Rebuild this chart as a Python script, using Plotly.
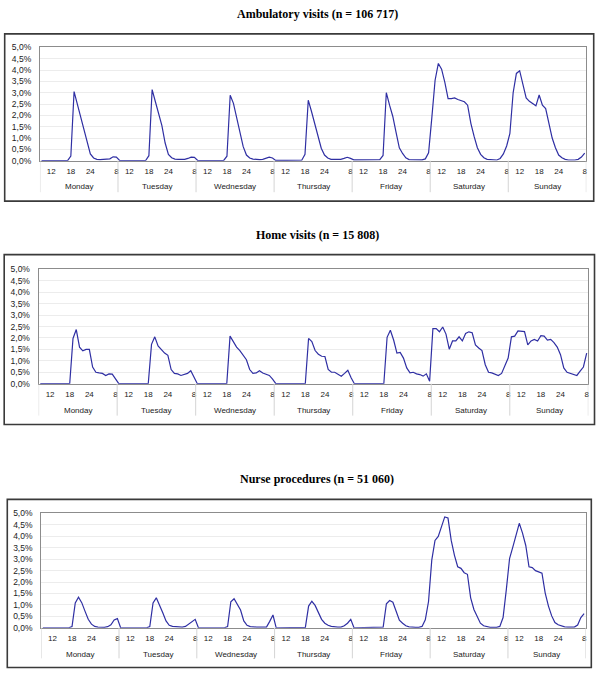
import plotly.graph_objects as go

# ---------------- data (percent of visits per hour, 8:00 Monday -> 8:00 next Monday) -------------
days = ["Monday", "Tuesday", "Wednesday", "Thursday", "Friday", "Saturday", "Sunday"]
hour_labels = [str(h) for h in list(range(9, 25)) + list(range(1, 9))]   # 24 hourly categories per day
shown_hours = ["12", "18", "24", "8"]

ambulatory = (
    [0, 0, 0, 0, 0, 0, 0, 0, 0, 0.2, 3.05, 2.5, 1.95, 1.35, 0.78, 0.3, 0.12, 0.06, 0.05, 0.05, 0.05, 0.08, 0.17, 0.16]
    + [0.01, 0, 0, 0, 0, 0, 0, 0, 0.01, 0.22, 3.14, 2.6, 2.1, 1.55, 0.78, 0.28, 0.13, 0.07, 0.06, 0.06, 0.06, 0.1, 0.16, 0.15]
    + [0.01, 0, 0, 0, 0, 0, 0, 0, 0.01, 0.2, 2.89, 2.53, 1.9, 1.25, 0.62, 0.25, 0.12, 0.07, 0.05, 0.05, 0.06, 0.1, 0.16, 0.12]
    + [0.01, 0.01, 0.01, 0.01, 0.01, 0.01, 0.01, 0.01, 0.02, 0.28, 2.67, 2.17, 1.66, 1.08, 0.55, 0.25, 0.12, 0.06, 0.05, 0.05, 0.06, 0.1, 0.15, 0.1]
    + [0.04, 0.04, 0.04, 0.03, 0.03, 0.03, 0.03, 0.04, 0.05, 0.23, 3.0, 2.45, 1.95, 1.25, 0.57, 0.32, 0.13, 0.05, 0.04, 0.04, 0.04, 0.04, 0.08, 0.35]
    + [1.9, 3.55, 4.29, 4.04, 3.46, 2.74, 2.74, 2.77, 2.7, 2.65, 2.6, 2.45, 1.65, 1.07, 0.57, 0.28, 0.13, 0.06, 0.04, 0.03, 0.03, 0.1, 0.3, 0.65]
    + [1.2, 3.0, 3.85, 3.97, 3.32, 2.77, 2.62, 2.52, 2.42, 2.9, 2.45, 2.3, 1.58, 1.0, 0.57, 0.25, 0.13, 0.06, 0.03, 0.02, 0.03, 0.06, 0.16, 0.33]
)

home = (
    [0, 0, 0, 0, 0, 0, 0, 0, 0, 0, 1.98, 2.37, 1.6, 1.44, 1.5, 1.5, 0.73, 0.5, 0.47, 0.45, 0.36, 0.43, 0.42, 0.19]
    + [0, 0, 0, 0, 0, 0, 0, 0, 0, 0, 1.72, 2.05, 1.65, 1.48, 1.34, 1.24, 0.62, 0.45, 0.43, 0.36, 0.39, 0.45, 0.57, 0.26]
    + [0, 0, 0, 0, 0, 0, 0, 0, 0, 0, 2.08, 1.84, 1.6, 1.45, 1.27, 1.05, 0.62, 0.45, 0.47, 0.57, 0.47, 0.4, 0.36, 0.2]
    + [0, 0, 0, 0, 0, 0, 0, 0, 0, 0, 1.98, 1.84, 1.45, 1.29, 1.2, 1.19, 0.62, 0.5, 0.5, 0.4, 0.33, 0.45, 0.59, 0.26]
    + [0, 0, 0, 0, 0, 0, 0, 0, 0, 0, 2.03, 2.34, 1.91, 1.34, 1.37, 1.12, 0.69, 0.47, 0.5, 0.43, 0.4, 0.33, 0.43, 0.11]
    + [2.41, 2.41, 2.27, 2.48, 2.17, 1.51, 1.87, 1.87, 2.05, 1.87, 2.2, 2.27, 2.23, 1.7, 1.56, 1.45, 0.83, 0.5, 0.47, 0.4, 0.36, 0.45, 0.76, 1.12]
    + [2.05, 2.08, 2.31, 2.3, 2.28, 1.7, 1.87, 1.94, 1.87, 2.1, 2.08, 1.91, 1.94, 1.8, 1.6, 1.27, 0.69, 0.5, 0.45, 0.43, 0.36, 0.55, 0.73, 1.34]
)

nurse = (
    [0, 0, 0, 0, 0, 0, 0, 0, 0, 0.05, 1.09, 1.34, 1.1, 0.73, 0.37, 0.16, 0.06, 0.03, 0.02, 0.02, 0.05, 0.13, 0.34, 0.4]
    + [0, 0, 0, 0, 0, 0, 0, 0, 0, 0.05, 1.09, 1.31, 1.02, 0.66, 0.3, 0.11, 0.06, 0.04, 0.04, 0.03, 0.06, 0.16, 0.3, 0.37]
    + [0, 0, 0, 0, 0, 0, 0, 0, 0, 0.05, 1.14, 1.27, 1.02, 0.78, 0.3, 0.11, 0.05, 0.03, 0.03, 0.03, 0.03, 0.03, 0.28, 0.56]
    + [0, 0, 0, 0, 0, 0, 0, 0, 0, 0.02, 0.95, 1.16, 0.98, 0.66, 0.37, 0.2, 0.11, 0.06, 0.03, 0.03, 0.03, 0.09, 0.2, 0.37]
    + [0, 0, 0, 0, 0, 0, 0, 0, 0, 0.03, 1.05, 1.19, 1.12, 0.69, 0.33, 0.2, 0.09, 0.04, 0.02, 0.02, 0.02, 0.06, 0.35, 1.15]
    + [2.96, 3.82, 4.0, 4.43, 4.85, 4.8, 3.82, 3.17, 2.67, 2.6, 2.41, 2.34, 1.31, 0.8, 0.49, 0.2, 0.09, 0.04, 0.02, 0.02, 0.02, 0.06, 0.45, 1.67]
    + [3.03, 3.53, 4.1, 4.57, 4.14, 3.6, 2.67, 2.63, 2.5, 2.44, 2.39, 1.52, 0.95, 0.52, 0.23, 0.13, 0.07, 0.04, 0.03, 0.02, 0.03, 0.12, 0.45, 0.62]
)

titles = ["Ambulatory visits (n = 106 717)", "Home visits (n = 15 808)", "Nurse procedures (n = 51 060)"]
series = [ambulatory, home, nurse]

y_tickvals = [0, 0.5, 1, 1.5, 2, 2.5, 3, 3.5, 4, 4.5, 5]
y_ticktext = ["0,0%", "0,5%", "1,0%", "1,5%", "2,0%", "2,5%", "3,0%", "3,5%", "4,0%", "4,5%", "5,0%"]

# ---------------- layout geometry (pixels) ----------------
W, H = 600, 686
panels = [
    dict(pl=40, pr=587.3, pt=43, pb=158, bl=4.7, br=594.7, bt=29.3, bb=199, ty=9.5, dy=184.3, db=190),
    dict(pl=38.7, pr=589.3, pt=268.3, pb=384.3, bl=4.2, br=595.5, bt=253.3, bb=425.7, ty=233.5, dy=411, db=416.7),
    dict(pl=41.3, pr=586.7, pt=516, pb=632, bl=7.3, br=592.3, bt=501.7, bb=672.3, ty=481.5, dy=659, db=663),
]

LINE = "#2f2fa3"
FONT = "Liberation Sans, Arial, sans-serif"

fig = go.Figure()
n_per_day = len(hour_labels)
n_total = n_per_day * len(days)
xs = [i + 0.5 for i in range(n_total)]
tickvals = [d * n_per_day + j + 0.5 for d in range(len(days)) for j, h in enumerate(hour_labels) if h in shown_hours]
ticktext = [h for d in range(len(days)) for h in hour_labels if h in shown_hours]

shapes, annotations = [], []

def py(v):
    return 1 - v / H

for k, (p, vals, title) in enumerate(zip(panels, series, titles)):
    sfx = "" if k == 0 else str(k + 1)
    fig.add_trace(go.Scatter(x=xs, y=vals, mode="lines", xaxis="x" + sfx, yaxis="y" + sfx,
                             line=dict(color=LINE, width=1.2), showlegend=False, hoverinfo="skip"))
    fig.layout["xaxis" + sfx] = dict(
        domain=[p["pl"] / W, p["pr"] / W], range=[0, n_total], anchor="y" + sfx,
        tickmode="array", tickvals=tickvals, ticktext=ticktext, ticks="", showgrid=False,
        zeroline=False, showline=True, mirror=True, linecolor="#8c8c8c", linewidth=1,
        tickfont=dict(family=FONT, size=8, color="#222"), ticklabelstandoff=3, fixedrange=True)
    fig.layout["yaxis" + sfx] = dict(
        domain=[py(p["pb"]), py(p["pt"])], range=[0, 5], anchor="x" + sfx,
        tickmode="array", tickvals=y_tickvals, ticktext=y_ticktext, ticks="",
        showgrid=True, gridcolor="#ececec", gridwidth=1, zeroline=False,
        showline=True, mirror=True, linecolor="#8c8c8c", linewidth=1,
        tickfont=dict(family=FONT, size=8.5, color="#222"), ticklabelstandoff=6, fixedrange=True)
    shapes.append(dict(type="rect", xref="paper", yref="paper", x0=p["bl"] / W, x1=p["br"] / W,
                       y0=py(p["bb"]), y1=py(p["bt"]), line=dict(color="#3a3a3a", width=1.6), layer="below"))
    for d in range(len(days) + 1):
        shapes.append(dict(type="line", xref="x" + sfx, yref="paper", x0=d * n_per_day, x1=d * n_per_day,
                           y0=py(p["pb"]), y1=py(p["db"]), line=dict(color="#d4d4d4", width=1)))
    for d, name in enumerate(days):
        annotations.append(dict(x=d * n_per_day + n_per_day / 2, xref="x" + sfx, y=py(p["dy"]), yref="paper",
                                text=name, showarrow=False, xanchor="center", yanchor="middle",
                                font=dict(family=FONT, size=8, color="#222")))
    annotations.append(dict(x=318 / W, xref="paper", y=py(p["ty"]), yref="paper", text="<b>" + title + "</b>",
                            showarrow=False, xanchor="center", yanchor="middle",
                            font=dict(family="Liberation Serif, Times New Roman, serif", size=12, color="#000")))

fig.update_layout(width=W, height=H, autosize=False, margin=dict(l=0, r=0, t=0, b=0),
                  paper_bgcolor="white", plot_bgcolor="white", shapes=shapes, annotations=annotations)

fig.write_html("out.html", config={"displayModeBar": False, "staticPlot": True},
               post_script="document.body.style.margin='0';document.body.style.overflow='hidden';")
